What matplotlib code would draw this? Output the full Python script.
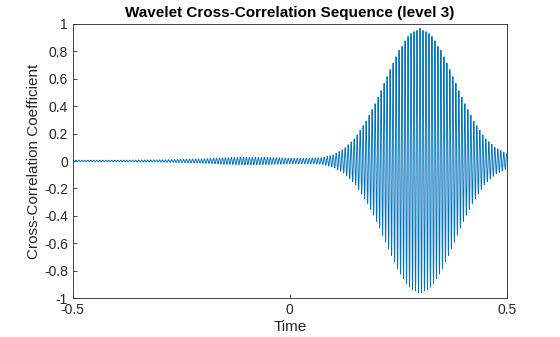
import numpy as np
import matplotlib
matplotlib.use('Agg')
from matplotlib import pyplot as plt

# envelope of the cross-correlation (lag in seconds, peak amplitude)
env_t = [-0.5, -0.4, -0.3, -0.2, -0.15, -0.1, -0.05, 0.0, 0.05, 0.075, 0.1, 0.125,
         0.15, 0.175, 0.2, 0.225, 0.25, 0.275, 0.3, 0.325, 0.35, 0.375, 0.4,
         0.425, 0.45, 0.475, 0.5]
env_a = [0.006, 0.006, 0.008, 0.016, 0.024, 0.028, 0.026, 0.02, 0.02, 0.025, 0.045, 0.089,
         0.167, 0.286, 0.44, 0.625, 0.80, 0.924, 0.97, 0.924, 0.80, 0.625, 0.44,
         0.286, 0.167, 0.095, 0.055]
fs = 4000          # samples per second of the lag axis
carrier_hz = 145   # stripe rate seen in the picture

x_ticks = [-0.5, 0, 0.5]
y_ticks = [-1, -0.8, -0.6, -0.4, -0.2, 0, 0.2, 0.4, 0.6, 0.8, 1]

plt.rcParams['font.family'] = ['Liberation Sans', 'DejaVu Sans']
plt.rcParams['axes.unicode_minus'] = False

lags = np.arange(-fs // 2, fs // 2 + 1) / fs
envelope = np.interp(lags, env_t, env_a)
xcorr = envelope * np.cos(2 * np.pi * carrier_hz * (lags - 0.3))

fig = plt.figure(figsize=(5.6, 3.37), dpi=100)
ax = fig.add_axes([0.130, 0.1157, 0.775, 0.8131])
ax.plot(lags, xcorr, color='#0072BD', linewidth=0.65)

ax.set_xlim(-0.5, 0.5)
ax.set_ylim(-1, 1)
ax.set_xticks(x_ticks)
ax.set_xticklabels(['-0.5', '0', '0.5'])
ax.set_yticks(y_ticks)
ax.set_yticklabels(['-1', '-0.8', '-0.6', '-0.4', '-0.2', '0', '0.2', '0.4', '0.6', '0.8', '1'])
ax.tick_params(direction='in', length=3, width=0.6, labelsize=10, colors='#262626')
for s in ax.spines.values():
    s.set_linewidth(0.6)
    s.set_color('#262626')

ax.set_title('Wavelet Cross-Correlation Sequence (level 3)', fontsize=11, fontweight='bold', pad=5)
ax.set_xlabel('Time', fontsize=11, color='#262626', labelpad=2)
ax.set_ylabel('Cross-Correlation Coefficient', fontsize=11, color='#262626', labelpad=2)

fig.savefig('out.png', dpi=100)
